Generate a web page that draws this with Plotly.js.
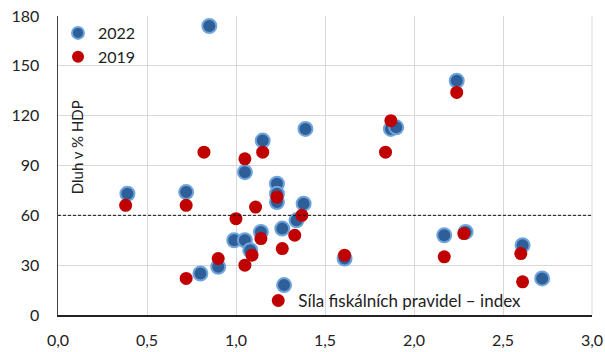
<!DOCTYPE html>
<html><head><meta charset="utf-8">
<script src="https://cdn.plot.ly/plotly-3.0.1.min.js"></script>
<style>html,body{margin:0;padding:0;background:#fff}#chart{width:605px;height:352px}</style>
</head><body><div id="chart"></div>
<script>
// 2022 series: fiscal rules strength index (x) vs debt % GDP (y)
const x2022 = [0.85, 2.24, 1.87, 1.90, 1.39, 1.15, 1.05, 0.39, 0.72, 0.80, 0.90, 1.23, 1.23, 1.23, 1.38, 1.34, 1.26, 1.14, 0.99, 1.05, 1.08, 1.27, 1.61, 2.17, 2.29, 2.61, 2.72];
const y2022 = [174, 141, 112, 113, 112, 105, 86, 73, 74, 25, 29, 79, 73, 68, 67, 57, 52, 50, 45, 45, 39, 18, 34, 48, 50, 42, 22];
// 2019 series
const x2019 = [0.82, 1.05, 1.15, 2.24, 1.87, 1.84, 0.38, 0.72, 0.72, 0.90, 1.00, 1.11, 1.14, 1.26, 1.33, 1.37, 1.23, 1.05, 1.09, 1.61, 2.17, 2.28, 2.60, 2.61];
const y2019 = [98, 94, 98, 134, 117, 98, 66, 66, 22, 34, 58, 65, 46, 40, 48, 60, 71, 30, 36, 36, 35, 49, 37, 20];
const seriesNames = ["2022", "2019"];
const xTitle = "Síla fiskálních pravidel – index";
const yTitle = "Dluh v % HDP";
const yTicks = [0, 30, 60, 90, 120, 150, 180];
const xTicks = [0, 0.5, 1, 1.5, 2, 2.5, 3];
const xTickText = ["0,0", "0,5", "1,0", "1,5", "2,0", "2,5", "3,0"];
const refLevel = 60;

const font = "Lato, 'Open Sans', sans-serif";
const traces = [
  {x: x2022, y: y2022, name: seriesNames[0], type: "scatter", mode: "markers",
   marker: {size: 14, color: "#2F5F98", line: {color: "#6FA5DC", width: 2}}, legend: "legend"},
  {x: x2019, y: y2019, name: seriesNames[1], type: "scatter", mode: "markers",
   marker: {size: 13, color: "#C00000", line: {width: 0}}, legend: "legend"},
  {x: [null], y: [null], name: xTitle, type: "scatter", mode: "markers",
   marker: {size: 13, color: "#C00000"}, legend: "legend2", showlegend: true}
];
const layout = {
  width: 605, height: 352,
  margin: {l: 58, r: 13, t: 16, b: 37},
  paper_bgcolor: "#fff", plot_bgcolor: "#fff",
  font: {family: font, size: 16, color: "#222"},
  showlegend: true,
  xaxis: {range: [0, 3], tickvals: xTicks, ticktext: xTickText, showgrid: true, gridcolor: "#D9D9D9", gridwidth: 1,
          zeroline: false, showline: true, linecolor: "#222", linewidth: 1.5, ticks: "", mirror: false,
          tickfont: {size: 16, family: font, color: "#222"}, ticklabelstandoff: 10, automargin: false},
  yaxis: {range: [0, 180], tickvals: yTicks, showgrid: true, gridcolor: "#D9D9D9", gridwidth: 1,
          zeroline: false, showline: true, linecolor: "#444", linewidth: 1.5, ticks: "",
          tickfont: {size: 16, family: font, color: "#222"}, ticklabelstandoff: 14, automargin: false},
  legend: {x: 0.0, y: 1.0, xanchor: "left", yanchor: "top", bgcolor: "rgba(0,0,0,0)",
           font: {size: 16, family: font, color: "#222"}, itemsizing: "constant", tracegroupgap: 0, itemwidth: 30},
  legend2: {x: 0.375, y: 0.047, xanchor: "left", yanchor: "middle", bgcolor: "rgba(0,0,0,0)",
           font: {size: 17, family: font, color: "#222"}, itemwidth: 30},
  shapes: [
    {type: "line", xref: "paper", x0: 0, x1: 1, yref: "y", y0: refLevel, y1: refLevel,
     line: {color: "#111", width: 1, dash: "3px,2px"}},
    {type: "line", xref: "paper", x0: 1, x1: 1, yref: "paper", y0: 0, y1: 1, line: {color: "#D9D9D9", width: 1}}
  ],
  annotations: [
    {text: yTitle, xref: "paper", yref: "paper", x: 0.036, y: 0.562, xanchor: "center", yanchor: "middle",
     textangle: -90, showarrow: false, font: {size: 15, family: font, color: "#222"}}
  ]
};
Plotly.newPlot("chart", traces, layout, {displayModeBar: false, staticPlot: true});
</script></body></html>
